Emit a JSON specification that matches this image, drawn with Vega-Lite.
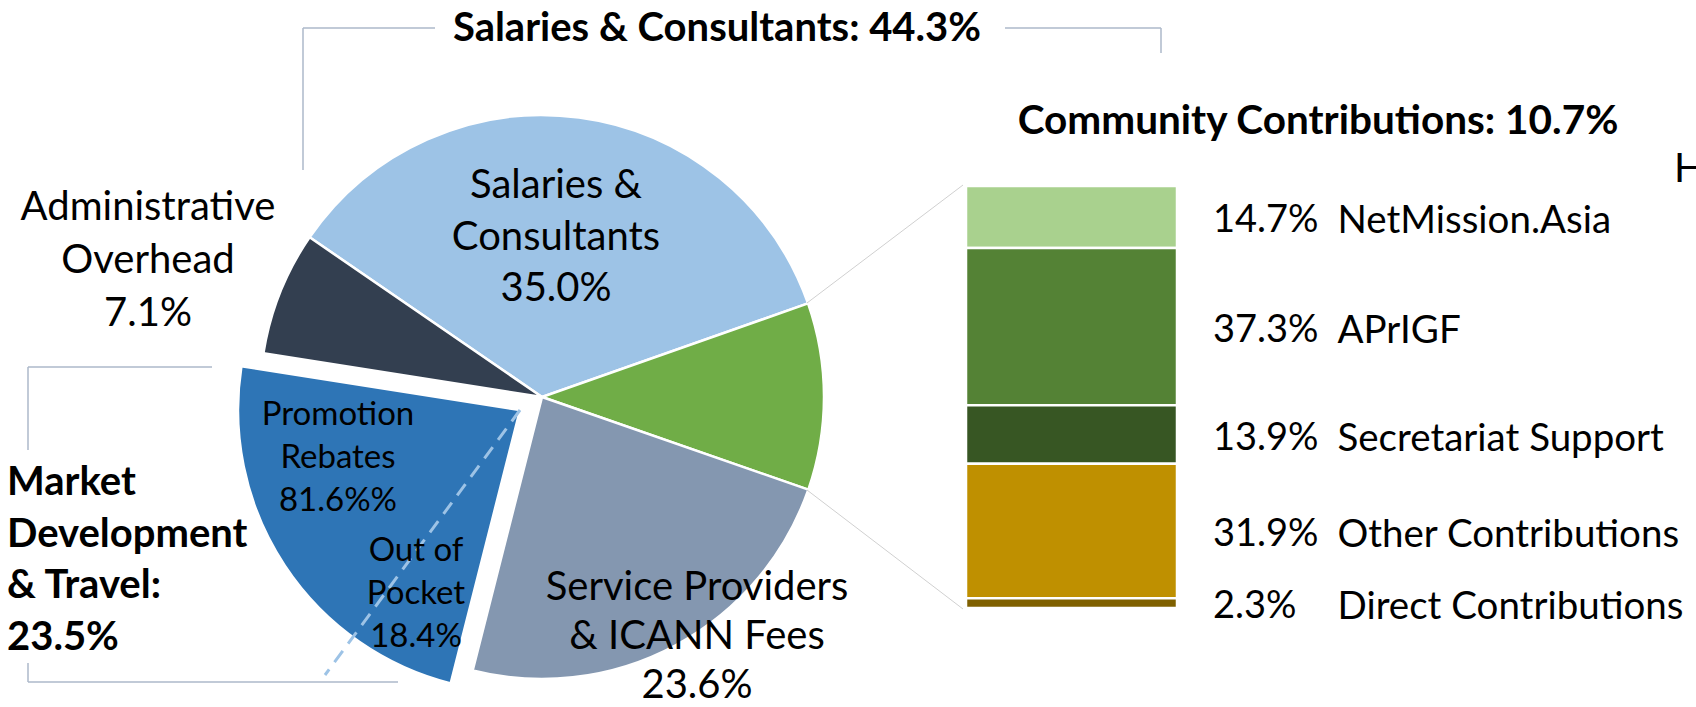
{
  "$schema": "https://vega.github.io/schema/vega-lite/v6.json",
  "width": 1696,
  "height": 707,
  "autosize": {"type": "none"},
  "padding": 0,
  "background": "white",
  "config": {
    "view": {"stroke": null},
    "axis": {"disable": true},
    "legend": {"disable": true},
    "text": {"font": "Lato", "fill": "#000000"}
  },
  "datasets": {
    "pie": [
      {"cat": "Salaries & Consultants", "idx": 1, "share": 35.0, "label": "Salaries &\nConsultants\n35.0%"},
      {"cat": "Community Contributions", "idx": 2, "share": 10.7, "label": "Community Contributions: 10.7%"},
      {"cat": "Service Providers & ICANN Fees", "idx": 3, "share": 23.6, "label": "Service Providers\n& ICANN Fees\n23.6%"},
      {"cat": "Market Development & Travel", "idx": 4, "share": 23.5, "label": "Market\nDevelopment\n& Travel:\n23.5%"},
      {"cat": "Administrative Overhead", "idx": 5, "share": 7.1, "label": "Administrative\nOverhead\n7.1%"}
    ],
    "market": [
      {"part": "Promotion Rebates", "share": 81.6, "label": "Promotion\nRebates\n81.6%%"},
      {"part": "Out of Pocket", "share": 18.4, "label": "Out of\nPocket\n18.4%"}
    ],
    "community": [
      {"name": "NetMission.Asia", "idx": 1, "pct": 0.147},
      {"name": "APrIGF", "idx": 2, "pct": 0.373},
      {"name": "Secretariat Support", "idx": 3, "pct": 0.139},
      {"name": "Other Contributions", "idx": 4, "pct": 0.319},
      {"name": "Direct Contributions", "idx": 5, "pct": 0.023}
    ],
    "one": [{}]
  },
  "layer": [
    {
      "data": {"name": "pie"},
      "layer": [
        {
          "mark": {"type": "arc", "outerRadius": 282, "x": 542, "y": 397, "stroke": "white", "strokeWidth": 2.5},
          "encoding": {
            "theta": {"field": "share", "type": "quantitative", "stack": true, "scale": {"domain": [0, 99.9], "range": [-0.9687, 5.3145]}},
            "order": {"field": "idx", "type": "quantitative"},
            "color": {"field": "cat", "type": "nominal", "legend": null, "scale": {"domain": ["Salaries & Consultants", "Community Contributions", "Service Providers & ICANN Fees", "Market Development & Travel", "Administrative Overhead"], "range": ["#9DC3E6", "#70AD47", "#8497B0", "#2E75B6", "#333F50"]}},
            "opacity": {"condition": {"test": "datum.cat === 'Market Development & Travel'", "value": 0}, "value": 1}
          }
        },
        {
          "mark": {"type": "arc", "outerRadius": 282, "x": 520, "y": 410, "stroke": "white", "strokeWidth": 2.5},
          "encoding": {
            "theta": {"field": "share", "type": "quantitative", "stack": true, "scale": {"domain": [0, 99.9], "range": [-0.9687, 5.3145]}},
            "order": {"field": "idx", "type": "quantitative"},
            "color": {"field": "cat", "type": "nominal", "legend": null, "scale": {"domain": ["Salaries & Consultants", "Community Contributions", "Service Providers & ICANN Fees", "Market Development & Travel", "Administrative Overhead"], "range": ["#9DC3E6", "#70AD47", "#8497B0", "#2E75B6", "#333F50"]}},
            "opacity": {"condition": {"test": "datum.cat === 'Market Development & Travel'", "value": 1}, "value": 0}
          }
        }
      ]
    },
    {
      "layer": [
        {"data": {"name": "one"}, "mark": {"type": "rule", "stroke": "#ADB9CA", "strokeWidth": 1.5},
         "encoding": {"x": {"datum": 303, "type": "quantitative", "scale": {"domain": [0, 1696], "nice": false, "zero": false}, "axis": null},
                      "y": {"datum": 28, "type": "quantitative", "scale": {"domain": [0, 707], "nice": false, "zero": false, "reverse": true}, "axis": null},
                      "y2": {"datum": 170}}},
        {"data": {"name": "one"}, "mark": {"type": "rule", "stroke": "#ADB9CA", "strokeWidth": 1.5},
         "encoding": {"x": {"datum": 303, "type": "quantitative", "scale": {"domain": [0, 1696], "nice": false, "zero": false}, "axis": null},
                      "x2": {"datum": 435},
                      "y": {"datum": 28, "type": "quantitative", "scale": {"domain": [0, 707], "nice": false, "zero": false, "reverse": true}, "axis": null}}},
        {"data": {"name": "one"}, "mark": {"type": "rule", "stroke": "#ADB9CA", "strokeWidth": 1.5},
         "encoding": {"x": {"datum": 1005, "type": "quantitative", "scale": {"domain": [0, 1696], "nice": false, "zero": false}, "axis": null},
                      "x2": {"datum": 1161},
                      "y": {"datum": 28, "type": "quantitative", "scale": {"domain": [0, 707], "nice": false, "zero": false, "reverse": true}, "axis": null}}},
        {"data": {"name": "one"}, "mark": {"type": "rule", "stroke": "#ADB9CA", "strokeWidth": 1.5},
         "encoding": {"x": {"datum": 1161, "type": "quantitative", "scale": {"domain": [0, 1696], "nice": false, "zero": false}, "axis": null},
                      "y": {"datum": 28, "type": "quantitative", "scale": {"domain": [0, 707], "nice": false, "zero": false, "reverse": true}, "axis": null},
                      "y2": {"datum": 53}}},
        {"data": {"name": "one"}, "mark": {"type": "rule", "stroke": "#ADB9CA", "strokeWidth": 1.5},
         "encoding": {"x": {"datum": 28, "type": "quantitative", "scale": {"domain": [0, 1696], "nice": false, "zero": false}, "axis": null},
                      "x2": {"datum": 212},
                      "y": {"datum": 367, "type": "quantitative", "scale": {"domain": [0, 707], "nice": false, "zero": false, "reverse": true}, "axis": null}}},
        {"data": {"name": "one"}, "mark": {"type": "rule", "stroke": "#ADB9CA", "strokeWidth": 1.5},
         "encoding": {"x": {"datum": 28, "type": "quantitative", "scale": {"domain": [0, 1696], "nice": false, "zero": false}, "axis": null},
                      "y": {"datum": 367, "type": "quantitative", "scale": {"domain": [0, 707], "nice": false, "zero": false, "reverse": true}, "axis": null},
                      "y2": {"datum": 450}}},
        {"data": {"name": "one"}, "mark": {"type": "rule", "stroke": "#ADB9CA", "strokeWidth": 1.5},
         "encoding": {"x": {"datum": 28, "type": "quantitative", "scale": {"domain": [0, 1696], "nice": false, "zero": false}, "axis": null},
                      "y": {"datum": 663, "type": "quantitative", "scale": {"domain": [0, 707], "nice": false, "zero": false, "reverse": true}, "axis": null},
                      "y2": {"datum": 682}}},
        {"data": {"name": "one"}, "mark": {"type": "rule", "stroke": "#ADB9CA", "strokeWidth": 1.5},
         "encoding": {"x": {"datum": 28, "type": "quantitative", "scale": {"domain": [0, 1696], "nice": false, "zero": false}, "axis": null},
                      "x2": {"datum": 398},
                      "y": {"datum": 682, "type": "quantitative", "scale": {"domain": [0, 707], "nice": false, "zero": false, "reverse": true}, "axis": null}}},
        {"data": {"name": "one"}, "mark": {"type": "rule", "stroke": "#D0D0D0", "strokeWidth": 1},
         "encoding": {"x": {"datum": 807, "type": "quantitative", "scale": {"domain": [0, 1696], "nice": false, "zero": false}, "axis": null},
                      "x2": {"datum": 963},
                      "y": {"datum": 303, "type": "quantitative", "scale": {"domain": [0, 707], "nice": false, "zero": false, "reverse": true}, "axis": null},
                      "y2": {"datum": 185}}},
        {"data": {"name": "one"}, "mark": {"type": "rule", "stroke": "#D0D0D0", "strokeWidth": 1},
         "encoding": {"x": {"datum": 807, "type": "quantitative", "scale": {"domain": [0, 1696], "nice": false, "zero": false}, "axis": null},
                      "x2": {"datum": 963},
                      "y": {"datum": 490, "type": "quantitative", "scale": {"domain": [0, 707], "nice": false, "zero": false, "reverse": true}, "axis": null},
                      "y2": {"datum": 609}}},
        {"data": {"name": "one"}, "mark": {"type": "rule", "stroke": "#9DC3E6", "strokeWidth": 3, "strokeDash": [14, 9]},
         "encoding": {"x": {"datum": 520, "type": "quantitative", "scale": {"domain": [0, 1696], "nice": false, "zero": false}, "axis": null},
                      "x2": {"datum": 325},
                      "y": {"datum": 410, "type": "quantitative", "scale": {"domain": [0, 707], "nice": false, "zero": false, "reverse": true}, "axis": null},
                      "y2": {"datum": 675}}},
        {"data": {"name": "one"}, "mark": {"type": "text", "font": "Lato", "fontWeight": "bold", "fontSize": 40, "align": "center", "baseline": "alphabetic"},
         "encoding": {"x": {"datum": 717, "type": "quantitative", "scale": {"domain": [0, 1696], "nice": false, "zero": false}, "axis": null},
                      "y": {"datum": 41, "type": "quantitative", "scale": {"domain": [0, 707], "nice": false, "zero": false, "reverse": true}, "axis": null},
                      "text": {"value": "Salaries & Consultants: 44.3%"}}},
        {"data": {"name": "one"}, "mark": {"type": "text", "font": "Lato", "fontSize": 40, "align": "left", "baseline": "alphabetic"},
         "encoding": {"x": {"datum": 1674, "type": "quantitative", "scale": {"domain": [0, 1696], "nice": false, "zero": false}, "axis": null},
                      "y": {"datum": 182, "type": "quantitative", "scale": {"domain": [0, 707], "nice": false, "zero": false, "reverse": true}, "axis": null},
                      "text": {"value": "H"}}},
        {"data": {"name": "pie"}, "transform": [{"filter": "datum.cat === 'Community Contributions'"}],
         "mark": {"type": "text", "font": "Lato", "fontWeight": "bold", "fontSize": 40.5, "align": "center", "baseline": "alphabetic"},
         "encoding": {"x": {"datum": 1318, "type": "quantitative", "scale": {"domain": [0, 1696], "nice": false, "zero": false}, "axis": null},
                      "y": {"datum": 134, "type": "quantitative", "scale": {"domain": [0, 707], "nice": false, "zero": false, "reverse": true}, "axis": null},
                      "text": {"field": "label"}}},
        {"data": {"name": "pie"}, "transform": [{"filter": "datum.cat === 'Salaries & Consultants'"}],
         "mark": {"type": "text", "font": "Lato", "fontSize": 40, "align": "center", "baseline": "alphabetic", "lineBreak": "\n", "lineHeight": 51.5},
         "encoding": {"x": {"datum": 556, "type": "quantitative", "scale": {"domain": [0, 1696], "nice": false, "zero": false}, "axis": null},
                      "y": {"datum": 198, "type": "quantitative", "scale": {"domain": [0, 707], "nice": false, "zero": false, "reverse": true}, "axis": null},
                      "text": {"field": "label"}}},
        {"data": {"name": "pie"}, "transform": [{"filter": "datum.cat === 'Administrative Overhead'"}],
         "mark": {"type": "text", "font": "Lato", "fontSize": 40, "align": "center", "baseline": "alphabetic", "lineBreak": "\n", "lineHeight": 53},
         "encoding": {"x": {"datum": 148, "type": "quantitative", "scale": {"domain": [0, 1696], "nice": false, "zero": false}, "axis": null},
                      "y": {"datum": 220, "type": "quantitative", "scale": {"domain": [0, 707], "nice": false, "zero": false, "reverse": true}, "axis": null},
                      "text": {"field": "label"}}},
        {"data": {"name": "pie"}, "transform": [{"filter": "datum.cat === 'Service Providers & ICANN Fees'"}],
         "mark": {"type": "text", "font": "Lato", "fontSize": 40, "align": "center", "baseline": "alphabetic", "lineBreak": "\n", "lineHeight": 49},
         "encoding": {"x": {"datum": 697, "type": "quantitative", "scale": {"domain": [0, 1696], "nice": false, "zero": false}, "axis": null},
                      "y": {"datum": 600, "type": "quantitative", "scale": {"domain": [0, 707], "nice": false, "zero": false, "reverse": true}, "axis": null},
                      "text": {"field": "label"}}},
        {"data": {"name": "pie"}, "transform": [{"filter": "datum.cat === 'Market Development & Travel'"}],
         "mark": {"type": "text", "font": "Lato", "fontWeight": "bold", "fontSize": 40, "align": "left", "baseline": "alphabetic", "lineBreak": "\n", "lineHeight": 51.5},
         "encoding": {"x": {"datum": 7, "type": "quantitative", "scale": {"domain": [0, 1696], "nice": false, "zero": false}, "axis": null},
                      "y": {"datum": 495, "type": "quantitative", "scale": {"domain": [0, 707], "nice": false, "zero": false, "reverse": true}, "axis": null},
                      "text": {"field": "label"}}},
        {"data": {"name": "market"}, "transform": [{"filter": "datum.part === 'Promotion Rebates'"}],
         "mark": {"type": "text", "font": "Lato", "fontSize": 33, "align": "center", "baseline": "alphabetic", "lineBreak": "\n", "lineHeight": 43},
         "encoding": {"x": {"datum": 338, "type": "quantitative", "scale": {"domain": [0, 1696], "nice": false, "zero": false}, "axis": null},
                      "y": {"datum": 425, "type": "quantitative", "scale": {"domain": [0, 707], "nice": false, "zero": false, "reverse": true}, "axis": null},
                      "text": {"field": "label"}}},
        {"data": {"name": "market"}, "transform": [{"filter": "datum.part === 'Out of Pocket'"}],
         "mark": {"type": "text", "font": "Lato", "fontSize": 33, "align": "center", "baseline": "alphabetic", "lineBreak": "\n", "lineHeight": 43},
         "encoding": {"x": {"datum": 416, "type": "quantitative", "scale": {"domain": [0, 1696], "nice": false, "zero": false}, "axis": null},
                      "y": {"datum": 561, "type": "quantitative", "scale": {"domain": [0, 707], "nice": false, "zero": false, "reverse": true}, "axis": null},
                      "text": {"field": "label"}}}
      ]
    },
    {
      "data": {"name": "community"},
      "layer": [
        {
          "mark": {"type": "bar", "stroke": "white", "strokeWidth": 2.5},
          "encoding": {
            "x": {"datum": "Community Contributions", "type": "nominal", "scale": {"range": [966, 1177], "paddingInner": 0, "paddingOuter": 0}, "axis": null},
            "y": {"field": "pct", "type": "quantitative", "stack": "zero", "scale": {"domain": [0, 1.001], "range": [186, 608], "nice": false, "zero": false}, "axis": null},
            "order": {"field": "idx", "type": "quantitative"},
            "color": {"field": "name", "type": "nominal", "legend": null, "scale": {"domain": ["NetMission.Asia", "APrIGF", "Secretariat Support", "Other Contributions", "Direct Contributions"], "range": ["#A9D18E", "#548235", "#375623", "#BF9000", "#7F6000"]}}
          }
        },
        {
          "mark": {"type": "text", "font": "Lato", "fontSize": 38, "align": "left", "baseline": "middle", "dx": 141.5, "dy": 4},
          "encoding": {
            "x": {"datum": "Community Contributions", "type": "nominal", "scale": {"range": [966, 1177], "paddingInner": 0, "paddingOuter": 0}, "axis": null},
            "y": {"field": "pct", "type": "quantitative", "stack": "zero", "bandPosition": 0.5, "scale": {"domain": [0, 1.001], "range": [186, 608], "nice": false, "zero": false}, "axis": null},
            "order": {"field": "idx", "type": "quantitative"},
            "text": {"field": "pct", "type": "quantitative", "format": ".1%"}
          }
        },
        {
          "mark": {"type": "text", "font": "Lato", "fontSize": 38.5, "align": "left", "baseline": "middle", "dx": 266, "dy": 4},
          "encoding": {
            "x": {"datum": "Community Contributions", "type": "nominal", "scale": {"range": [966, 1177], "paddingInner": 0, "paddingOuter": 0}, "axis": null},
            "y": {"field": "pct", "type": "quantitative", "stack": "zero", "bandPosition": 0.5, "scale": {"domain": [0, 1.001], "range": [186, 608], "nice": false, "zero": false}, "axis": null},
            "order": {"field": "idx", "type": "quantitative"},
            "text": {"field": "name"}
          }
        }
      ]
    }
  ],
  "resolve": {"scale": {"x": "independent", "y": "independent", "color": "independent", "theta": "independent"}}
}
